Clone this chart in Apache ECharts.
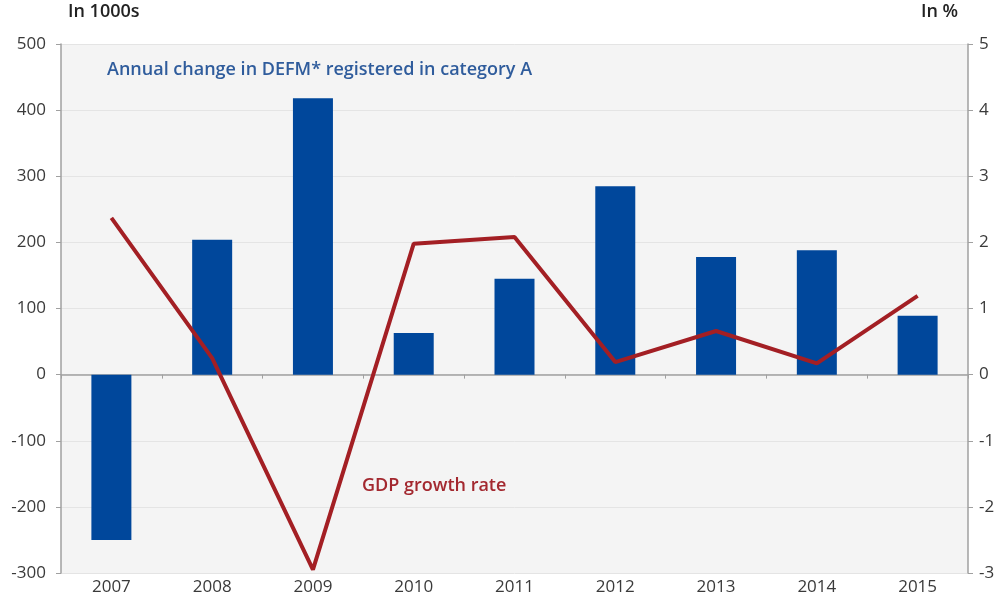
<!DOCTYPE html>
<html>
<head>
<meta charset="utf-8">
<script src="https://cdn.jsdelivr.net/npm/echarts@6/dist/echarts.min.js"></script>
<style>
	html, body { margin: 0; padding: 0; background: #fff; }
	#mychart { width: 1002px; height: 598px; }
</style>
</head>
<body>
<div id="mychart"></div>
<script>
// data
var years = ['2007', '2008', '2009', '2010', '2011', '2012', '2013', '2014', '2015'];
var defmChange = [-250, 204, 418, 63, 145, 285, 178, 188, 89]; // in 1000s
var gdpGrowth = [2.37, 0.25, -2.95, 1.98, 2.08, 0.19, 0.66, 0.17, 1.19]; // in %
var leftTicks = [-300, 500, 100];
var rightTicks = [-3, 5, 1];

var myChart = echarts.init(document.getElementById('mychart'));
var font = 'Open Sans';
var labelColor = '#3a3a3a';
var axisGrey = '#a0a0a0';

var option = {
	animation: false,
	textStyle: { fontFamily: font },
	grid: {
		left: 61,
		right: 34,
		top: 44,
		bottom: 25,
		show: true,
		backgroundColor: '#f4f4f4',
		borderWidth: 0
	},
	graphic: [{
		type: 'text',
		left: 107,
		top: 61,
		style: {
			text: 'Annual change in DEFM* registered in category A',
			fill: '#2f5c9c',
			font: '600 18px "Open Sans"'
		}
	}, {
		type: 'text',
		left: 362,
		top: 477,
		style: {
			text: 'GDP growth rate',
			fill: '#a3282f',
			font: '600 18px "Open Sans"'
		}
	}, {
		type: 'text',
		left: 68,
		top: 3,
		style: {
			text: 'In 1000s',
			fill: '#222',
			font: '600 18px "Open Sans"'
		}
	}, {
		type: 'text',
		left: 921,
		top: 3,
		style: {
			text: 'In %',
			fill: '#222',
			font: '600 18px "Open Sans"'
		}
	}],
	xAxis: [{
		type: 'category',
		data: years,
		position: 'bottom',
		axisLine: { show: false, onZero: false },
		axisTick: { show: false },
		axisLabel: { color: labelColor, fontSize: 17, margin: 6 },
		splitLine: { show: false }
	}, {
		type: 'category',
		data: years,
		position: 'bottom',
		axisLine: { show: true, onZero: true, lineStyle: { color: axisGrey, width: 1.5 } },
		axisTick: { show: true, length: 4, lineStyle: { color: axisGrey } },
		axisLabel: { show: false },
		splitLine: { show: false }
	}],
	yAxis: [{
		type: 'value',
		min: leftTicks[0],
		max: leftTicks[1],
		interval: leftTicks[2],
		position: 'left',
		axisLine: { show: true, lineStyle: { color: axisGrey, width: 1.5 } },
		axisTick: { show: true, length: 5, lineStyle: { color: axisGrey } },
		axisLabel: { color: labelColor, fontSize: 17, margin: 15 },
		splitLine: { show: true, lineStyle: { color: '#e4e4e4', width: 1 } }
	}, {
		type: 'value',
		min: rightTicks[0],
		max: rightTicks[1],
		interval: rightTicks[2],
		position: 'right',
		axisLine: { show: true, lineStyle: { color: axisGrey, width: 1.5 } },
		axisTick: { show: true, length: 5, lineStyle: { color: axisGrey } },
		axisLabel: { color: labelColor, fontSize: 17, margin: 11 },
		splitLine: { show: false }
	}],
	series: [{
		name: 'DEFM',
		type: 'bar',
		xAxisIndex: 0,
		yAxisIndex: 0,
		data: defmChange,
		barWidth: 40,
		itemStyle: { color: '#00479b' }
	}, {
		name: 'GDP',
		type: 'line',
		xAxisIndex: 0,
		yAxisIndex: 1,
		data: gdpGrowth,
		symbol: 'none',
		lineStyle: { color: '#a31f24', width: 4 }
	}]
};
myChart.setOption(option);
</script>
</body>
</html>
